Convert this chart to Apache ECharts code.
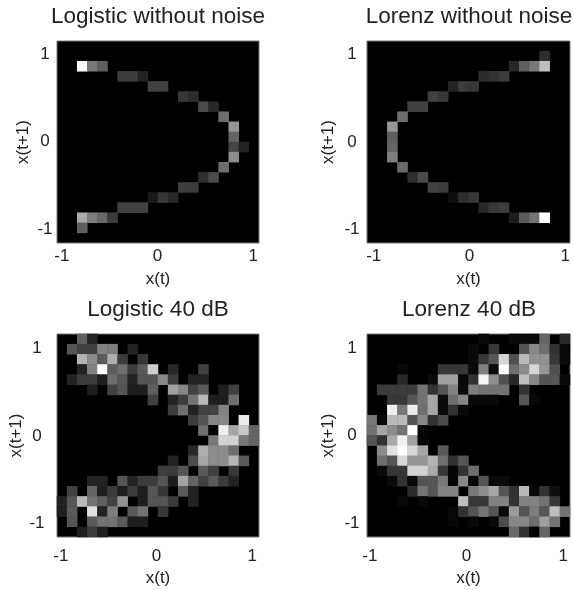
<!DOCTYPE html>
<html>
<head>
<meta charset="utf-8">
<title>Return maps</title>
<script src="https://cdn.jsdelivr.net/npm/echarts@6/dist/echarts.min.js"></script>
<style>
html, body { margin: 0; padding: 0; background: #fff; }
#chart { width: 574px; height: 590px; }
</style>
</head>
<body>
<div id="chart"></div>
<script>
const titles = ["Logistic without noise", "Lorenz without noise", "Logistic 40 dB", "Lorenz 40 dB"];
const xName = "x(t)";
const yName = "x(t+1)";
const tickValues = [-1, 0, 1];
const binIndex = ["0", "1", "2", "3", "4", "5", "6", "7", "8", "9", "10", "11", "12", "13", "14", "15", "16", "17", "18", "19"];

// [column, row from top, grey level]
const logisticClean = [
  [2,2,255],[3,2,120],[4,2,95],
  [6,3,60],[7,3,60],[8,3,35],
  [9,4,65],[10,4,65],
  [12,5,55],[13,5,45],
  [14,6,75],[15,6,40],
  [16,7,110],
  [17,8,150],[17,9,100],[17,10,70],[18,10,35],[17,11,140],
  [16,12,110],
  [14,13,45],[15,13,75],
  [12,14,60],[13,14,60],
  [9,15,25],[10,15,55],[11,15,40],
  [6,16,65],[7,16,65],[8,16,65],
  [2,17,170],[3,17,125],[4,17,105],[5,17,60],
  [2,18,95]
];
const lorenzClean = [
  [17,1,45],
  [14,2,40],[15,2,95],[16,2,120],[17,2,190],
  [11,3,45],[12,3,50],[13,3,60],
  [8,4,35],[9,4,60],[10,4,55],
  [6,5,65],[7,5,55],
  [4,6,65],[5,6,65],
  [3,7,110],
  [2,8,150],[2,9,95],[2,10,100],[2,11,125],
  [3,12,105],
  [4,13,45],[5,13,75],
  [6,14,65],[7,14,60],
  [8,15,15],[9,15,45],[10,15,55],
  [11,16,40],[12,16,55],[13,16,60],
  [14,17,30],[15,17,90],[16,17,115],[17,17,255]
];
const logisticNoisy = [
  [2,0,95],[3,0,35],
  [1,1,85],[2,1,65],[3,1,65],[4,1,130],[5,1,125],[7,1,35],
  [2,2,180],[3,2,140],[4,2,90],[5,2,175],[6,2,60],[8,2,55],
  [2,3,35],[3,3,130],[4,3,255],[5,3,95],[6,3,110],[7,3,60],[8,3,90],[9,3,205],[11,3,40],[14,3,65],
  [1,4,35],[2,4,60],[3,4,60],[4,4,30],[5,4,110],[6,4,85],[7,4,35],[8,4,85],[9,4,85],[10,4,135],[11,4,60],[13,4,35],[14,4,35],
  [3,5,30],[5,5,65],[6,5,85],[7,5,30],[8,5,30],[9,5,95],[11,5,160],[12,5,135],[13,5,65],[14,5,90],[16,5,30],[17,5,65],
  [9,6,65],[11,6,35],[12,6,60],[13,6,115],[14,6,185],[15,6,30],[16,6,30],[17,6,110],
  [11,7,60],[12,7,110],[13,7,35],[14,7,65],[15,7,65],[16,7,130],
  [13,8,60],[14,8,85],[15,8,135],[16,8,135],[18,8,235],
  [14,9,110],[15,9,5],[16,9,240],[17,9,165],[18,9,200],[19,9,100],
  [15,10,120],[16,10,210],[17,10,210],[18,10,120],[19,10,100],
  [13,11,40],[14,11,175],[15,11,140],[16,11,140],[17,11,110],
  [11,12,35],[13,12,75],[14,12,165],[15,12,140],[16,12,140],[17,12,180],[18,12,90],
  [10,13,60],[11,13,60],[12,13,85],[14,13,90],[15,13,65],[17,13,55],
  [3,14,35],[4,14,35],[6,14,85],[7,14,35],[8,14,60],[9,14,60],[10,14,85],[11,14,30],[12,14,165],[13,14,100],[14,14,65],[15,14,90],[16,14,60],[17,14,35],
  [1,15,65],[3,15,100],[4,15,30],[5,15,60],[6,15,30],[7,15,60],[8,15,30],[9,15,85],[10,15,55],[12,15,90],[13,15,35],
  [0,16,35],[1,16,85],[2,16,185],[3,16,115],[4,16,95],[5,16,65],[6,16,145],[8,16,30],[9,16,85],[10,16,85],[11,16,60],[13,16,35],
  [0,17,30],[1,17,90],[3,17,225],[4,17,35],[5,17,125],[7,17,90],[8,17,115],[10,17,55],
  [1,18,85],[3,18,90],[4,18,115],[5,18,115],[6,18,90],[7,18,30],[8,18,30],
  [2,19,30],[3,19,60],[4,19,30]
];
const lorenzNoisy = [
  [11,0,10],[14,0,10],[15,0,10],[16,0,10],[17,0,100],[19,0,40],
  [10,1,10],[12,1,55],[15,1,85],[16,1,135],[17,1,110],[18,1,50],[19,1,8],
  [10,2,10],[11,2,55],[12,2,85],[13,2,215],[14,2,80],[15,2,185],[16,2,145],[17,2,145],[18,2,55],[19,2,10],
  [3,3,8],[7,3,55],[8,3,55],[9,3,55],[10,3,10],[11,3,130],[12,3,10],[13,3,255],[14,3,110],[15,3,140],[16,3,215],[17,3,150],[18,3,80],
  [3,4,40],[6,4,10],[7,4,160],[8,4,160],[9,4,8],[10,4,50],[11,4,245],[12,4,140],[13,4,80],[14,4,40],[15,4,190],[16,4,135],[17,4,85],[18,4,85],[19,4,10],
  [1,5,60],[2,5,60],[3,5,60],[4,5,60],[5,5,115],[6,5,50],[7,5,85],[8,5,130],[9,5,10],[10,5,125],[11,5,115],[12,5,115],[13,5,115],[15,5,50],
  [2,6,55],[3,6,55],[4,6,85],[5,6,115],[6,6,165],[7,6,10],[8,6,110],[9,6,135],[10,6,8],[11,6,8],[12,6,8],[15,6,85],[16,6,8],
  [2,7,240],[3,7,120],[4,7,235],[5,7,110],[6,7,165],[7,7,10],[8,7,50],[9,7,10],
  [0,8,120],[1,8,10],[2,8,185],[3,8,185],[4,8,85],[5,8,135],[6,8,50],[7,8,75],
  [0,9,115],[1,9,165],[2,9,140],[3,9,115],[4,9,255],[5,9,5],
  [0,10,85],[1,10,50],[2,10,170],[3,10,240],[4,10,160],[5,10,5],
  [1,11,140],[2,11,225],[3,11,255],[4,11,215],[5,11,165],[7,11,90],
  [1,12,110],[2,12,85],[3,12,215],[4,12,150],[5,12,150],[6,12,180],[7,12,110],[8,12,50],[9,12,85],
  [1,13,10],[2,13,55],[3,13,55],[4,13,210],[5,13,210],[6,13,170],[7,13,55],[8,13,5],[9,13,50],[10,13,110],
  [2,14,10],[3,14,50],[4,14,10],[5,14,85],[6,14,85],[7,14,120],[8,14,5],[9,14,135],[10,14,5],[11,14,85],[12,14,10],[13,14,10],
  [4,15,45],[5,15,115],[6,15,85],[7,15,130],[8,15,130],[10,15,120],[11,15,140],[12,15,165],[13,15,85],[14,15,50],[15,15,185],[16,15,8],[17,15,50],[18,15,15],
  [3,16,8],[5,16,8],[9,16,190],[10,16,55],[11,16,55],[12,16,130],[13,16,130],[14,16,50],[15,16,130],[16,16,130],[17,16,115],[18,16,55],
  [8,17,8],[9,17,50],[10,17,85],[11,17,115],[12,17,85],[13,17,10],[14,17,155],[15,17,85],[16,17,125],[17,17,85],[18,17,190],[19,17,115],
  [8,18,8],[10,18,8],[12,18,8],[13,18,75],[14,18,135],[15,18,135],[16,18,110],[17,18,160],[18,18,115],
  [14,19,105],[15,19,50],[16,19,5],[17,19,100]
];

const panels = [logisticClean, lorenzClean, logisticNoisy, lorenzNoisy];

// the tick labels don't sit at the frame edges, so each panel gets its own axis range
const layout = [
  { left: 57, top: 41, width: 202, height: 202, xMin: -1.05, xMax: 1.06, yMin: -1.16, yMax: 1.148, titleX: 153, titleTop: 0, xMargin: 13, yMargin: 12, xGap: 28, yGap: 25 },
  { left: 367, top: 41, width: 203, height: 202, xMin: -1.07, xMax: 1.05, yMin: -1.154, yMax: 1.154, titleX: 464, titleTop: 0, xMargin: 13, yMargin: 15, xGap: 28, yGap: 30 },
  { left: 57, top: 334, width: 202, height: 203, xMin: -1.04, xMax: 1.07, yMin: -1.154, yMax: 1.166, titleX: 153, titleTop: 293, xMargin: 19, yMargin: 20, xGap: 33, yGap: 32 },
  { left: 367, top: 334, width: 203, height: 203, xMin: -1.03, xMax: 1.07, yMin: -1.16, yMax: 1.16, titleX: 464, titleTop: 293, xMargin: 19, yMargin: 15, xGap: 33, yGap: 30 }
];

const fontFamily = "Liberation Sans";

function labelStyle(margin) {
  return {
    show: true,
    customValues: tickValues,
    margin: margin,
    color: "#222",
    fontSize: 17,
    fontFamily: fontFamily,
    align: "center",
    verticalAlign: "middle",
    formatter: function (v) { return String(Math.round(v)); }
  };
}

var option = {
  animation: false,
  backgroundColor: "#fff",
  title: [],
  grid: [],
  xAxis: [],
  yAxis: [],
  series: [],
  visualMap: {
    show: false,
    min: 0,
    max: 255,
    seriesIndex: [0, 1, 2, 3],
    inRange: { color: ["#000000", "#ffffff"] }
  }
};

panels.forEach(function (data, i) {
  const p = layout[i];
  option.title.push({
    text: titles[i],
    left: p.titleX,
    top: p.titleTop,
    textAlign: "center",
    textStyle: { color: "#222", fontSize: 22.5, fontWeight: "normal", fontFamily: fontFamily }
  });
  option.grid.push({
    left: p.left,
    top: p.top,
    width: p.width,
    height: p.height,
    outerBoundsMode: "none",
    show: true,
    backgroundColor: "#000",
    borderColor: "#777",
    borderWidth: 1
  });
  // category axes carry the cells, value axes carry the -1 0 1 labels
  option.xAxis.push({ type: "category", gridIndex: i, data: binIndex, show: false });
  option.yAxis.push({ type: "category", gridIndex: i, data: binIndex, inverse: true, show: false });
  option.xAxis.push({
    type: "value",
    gridIndex: i,
    position: "bottom",
    min: p.xMin,
    max: p.xMax,
    name: xName,
    nameLocation: "middle",
    nameGap: p.xGap,
    nameTextStyle: { color: "#222", fontSize: 17, fontFamily: fontFamily },
    axisLine: { show: false },
    axisTick: { show: false },
    splitLine: { show: false },
    axisLabel: labelStyle(p.xMargin)
  });
  option.yAxis.push({
    type: "value",
    gridIndex: i,
    position: "left",
    min: p.yMin,
    max: p.yMax,
    name: yName,
    nameLocation: "middle",
    nameGap: p.yGap,
    nameRotate: 90,
    nameTextStyle: { color: "#222", fontSize: 17, fontFamily: fontFamily },
    axisLine: { show: false },
    axisTick: { show: false },
    splitLine: { show: false },
    axisLabel: labelStyle(p.yMargin)
  });
  option.series.push({
    type: "heatmap",
    xAxisIndex: i * 2,
    yAxisIndex: i * 2,
    data: data,
    itemStyle: { borderWidth: 0 },
    emphasis: { disabled: true }
  });
});

var myChart = echarts.init(document.getElementById("chart"));
myChart.setOption(option);
</script>
</body>
</html>
